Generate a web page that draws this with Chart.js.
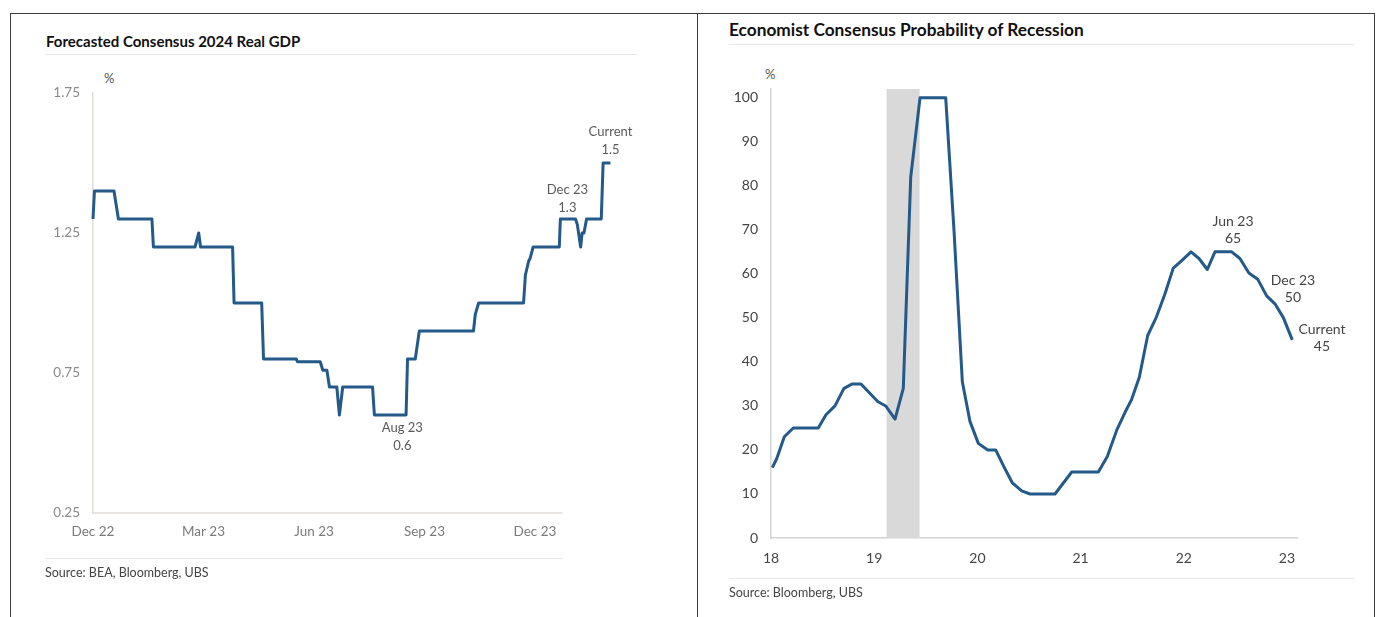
<!DOCTYPE html>
<html>
<head>
<meta charset="utf-8">
<script src="https://cdn.jsdelivr.net/npm/chart.js@4.4.1/dist/chart.umd.min.js"></script>
<style>
  html, body { margin: 0; padding: 0; background: #fff; width: 1377px; height: 617px; overflow: hidden; }
  body { position: relative; font-family: Lato, "Open Sans", sans-serif; }
  .rule-h { position: absolute; height: 0; }
  .rule-v { position: absolute; width: 0; }
  .title { position: absolute; font-weight: bold; color: #111; white-space: nowrap; line-height: 1; }
  .source { position: absolute; font-size: 12.5px; color: #444; white-space: nowrap; line-height: 1; }
  .unit { position: absolute; font-size: 13px; color: #555; line-height: 1; }
  canvas { position: absolute; top: 0; }
</style>
</head>
<body>
<!-- frame -->
<div class="rule-h" style="left:10px; top:13px; width:1365px; border-top:1.5px solid #3c3c3c;"></div>
<div class="rule-v" style="left:10px; top:13px; height:604px; border-left:1.5px solid #3c3c3c;"></div>
<div class="rule-v" style="left:697px; top:13px; height:604px; border-left:1.5px solid #3c3c3c;"></div>
<div class="rule-v" style="left:1374px; top:13px; height:604px; border-left:1.5px solid #3c3c3c;"></div>

<!-- left panel -->
<div class="title" style="left:46px; top:34px; font-size:15px;">Forecasted Consensus 2024 Real GDP</div>
<div class="rule-h" style="left:46px; top:54px; width:591px; border-top:1.5px solid #e6e6e6;"></div>
<div class="unit" style="left:104px; top:72px;">%</div>
<canvas id="gdp" width="697" height="617" style="left:0;"></canvas>
<div class="rule-h" style="left:46px; top:558px; width:516px; border-top:1.5px solid #e6e6e6;"></div>
<div class="source" style="left:45px; top:567px;">Source: BEA, Bloomberg, UBS</div>

<!-- right panel -->
<div class="title" style="left:729px; top:21px; font-size:17.3px;">Economist Consensus Probability of Recession</div>
<div class="rule-h" style="left:729px; top:44px; width:625px; border-top:1.5px solid #e6e6e6;"></div>
<div class="unit" style="left:765px; top:68px;">%</div>
<canvas id="rec" width="680" height="617" style="left:697px;"></canvas>
<div class="rule-h" style="left:729px; top:578px; width:625px; border-top:1.5px solid #e6e6e6;"></div>
<div class="source" style="left:729px; top:587px;">Source: Bloomberg, UBS</div>

<script>
// ---- Forecasted consensus 2024 real GDP (x = months after Dec 22) ----
const gdpMonths = [0, 0.04, 0.57, 0.63, 0.69, 1.60, 1.64, 2.77, 2.87, 2.92,
  3.79, 3.83, 4.58, 4.63, 5.52, 5.55, 6.17, 6.24, 6.35, 6.42,
  6.62, 6.69, 6.78, 7.59, 7.64, 8.50, 8.54, 8.75, 8.86, 10.33,
  10.38, 10.47, 11.69, 11.74, 11.83, 11.87, 11.95, 12.66, 12.69, 13.10,
  13.15, 13.24, 13.28, 13.33, 13.40, 13.80, 13.85, 14.05];
const gdpValues = [1.3, 1.4, 1.4, 1.35, 1.3, 1.3, 1.2, 1.2, 1.25, 1.2,
  1.2, 1.0, 1.0, 0.8, 0.8, 0.79, 0.79, 0.76, 0.76, 0.7,
  0.7, 0.6, 0.7, 0.7, 0.6, 0.6, 0.8, 0.8, 0.9, 0.9,
  0.96, 1.0, 1.0, 1.1, 1.15, 1.16, 1.2, 1.2, 1.3, 1.3,
  1.28, 1.2, 1.25, 1.25, 1.3, 1.3, 1.5, 1.5];
const gdpTickMonths = [0, 3, 6, 9, 12];
const gdpTickLabels = ['Dec 22', 'Mar 23', 'Jun 23', 'Sep 23', 'Dec 23'];
const gdpAxisEnd = 12.75;   // the baseline stops here; the series runs on past it
const gdpYTicks = [0.25, 0.75, 1.25, 1.75];
const gdpNoteNames = ['Aug 23', 'Dec 23', 'Current'];
const gdpNoteMonths = [8.4, 12.88, 14.05];
const gdpNoteValues = [0.6, 1.3, 1.5];

// ---- Economist consensus probability of recession (x = year, 18 = 2018) ----
const recYears = [18.013, 18.055, 18.129, 18.216, 18.458, 18.533, 18.620, 18.707, 18.788, 18.872,
  18.953, 19.034, 19.111, 19.202, 19.282, 19.354, 19.444, 19.693, 19.773, 19.854,
  19.928, 20.009, 20.100, 20.177, 20.261, 20.339, 20.429, 20.510, 20.752, 20.914,
  21.172, 21.259, 21.350, 21.430, 21.495, 21.569, 21.650, 21.731, 21.818, 21.898,
  21.980, 22.070, 22.147, 22.228, 22.302, 22.464, 22.544, 22.631, 22.716, 22.803,
  22.883, 22.966, 23.051];
const recValues = [16, 18, 23, 25, 25, 28, 30, 34, 35, 35,
  33, 31, 30, 27, 34, 82, 100, 100, 70, 35.5,
  26.5, 21.5, 20, 20, 16, 12.5, 10.7, 10, 10, 15,
  15, 18.5, 24.5, 28.5, 31.5, 36.5, 46, 50, 55.5, 61.3,
  63, 65, 63.5, 61, 65, 65, 63.5, 60.2, 58.8, 55,
  53.2, 50, 45];
const recTickYears = [18, 19, 20, 21, 22, 23];
const recYTicks = [0, 10, 20, 30, 40, 50, 60, 70, 80, 90, 100];
const recessionBand = [19.12, 19.44];
const recNoteNames = ['Jun 23', 'Dec 23', 'Current'];
const recNoteYears = [22.477, 23.058, 23.339];
const recNoteValues = [65, 50, 45];

const LINE_BLUE = '#245a89';
const FONT = 'Lato, "Open Sans", sans-serif';

// Two-line labels (name over value) anchored in data space
const notesPlugin = {
  id: 'notes',
  afterDatasetsDraw(chart, args, opts) {
    const { ctx, scales: { x, y } } = chart;
    ctx.save();
    ctx.font = opts.font;
    ctx.fillStyle = opts.color;
    ctx.textAlign = 'center';
    ctx.textBaseline = 'middle';
    opts.items.forEach(n => {
      const px = x.getPixelForValue(n.x);
      const py = y.getPixelForValue(n.y);
      ctx.fillText(n.name, px, py + n.dy);
      ctx.fillText(String(n.y), px, py + n.dy + opts.lineHeight);
    });
    ctx.restore();
  }
};

// Shaded recession period behind the line
const bandPlugin = {
  id: 'band',
  beforeDatasetsDraw(chart, args, opts) {
    if (!opts.range) return;
    const { ctx, chartArea, scales: { x } } = chart;
    const x0 = x.getPixelForValue(opts.range[0]);
    const x1 = x.getPixelForValue(opts.range[1]);
    ctx.save();
    ctx.fillStyle = opts.color;
    ctx.fillRect(x0, chartArea.top, x1 - x0, chartArea.bottom - chartArea.top);
    ctx.restore();
  }
};

// Short x baseline that ends before the last data points
const baselinePlugin = {
  id: 'baseline',
  beforeDatasetsDraw(chart, args, opts) {
    if (opts.end === undefined) return;
    const { ctx, chartArea, scales: { x } } = chart;
    ctx.save();
    ctx.strokeStyle = opts.color;
    ctx.lineWidth = opts.width;
    ctx.beginPath();
    ctx.moveTo(chartArea.left, chartArea.bottom);
    ctx.lineTo(x.getPixelForValue(opts.end), chartArea.bottom);
    ctx.stroke();
    ctx.restore();
  }
};

function fixedTicks(values) {
  return scale => { scale.ticks = values.map(v => ({ value: v })); };
}

// ---- left chart ----
const gdpNoteOffsets = [13, -29, -31];
new Chart(document.getElementById('gdp'), {
  type: 'line',
  data: {
    datasets: [{
      data: gdpMonths.map((m, i) => ({ x: m, y: gdpValues[i] })),
      borderColor: LINE_BLUE,
      borderWidth: 3,
      pointRadius: 0,
      tension: 0,
      clip: false,
      borderJoinStyle: 'round'
    }]
  },
  options: {
    responsive: false,
    animation: false,
    events: [],
    layout: { padding: { left: 0, top: 93, right: 81, bottom: 74 } },
    plugins: {
      legend: { display: false },
      tooltip: { enabled: false },
      baseline: { end: gdpAxisEnd, color: '#e0dcd8', width: 1.5 },
      notes: {
        font: '13px ' + FONT,
        color: '#5a5a5a',
        lineHeight: 18,
        items: gdpNoteNames.map((name, i) => ({ name, x: gdpNoteMonths[i], y: gdpNoteValues[i], dy: gdpNoteOffsets[i] }))
      }
    },
    scales: {
      x: {
        type: 'linear', min: 0, max: 14.2,
        afterBuildTicks: fixedTicks(gdpTickMonths),
        afterFit: s => { s.height = 30; },
        grid: { display: false, drawTicks: false },
        border: { display: false },
        ticks: {
          padding: 11, color: '#7a7a7a', font: { family: FONT, size: 13.5 },
          maxRotation: 0, autoSkip: false,
          callback: v => gdpTickLabels[gdpTickMonths.indexOf(v)]
        }
      },
      y: {
        type: 'linear', min: 0.25, max: 1.75,
        afterBuildTicks: fixedTicks(gdpYTicks),
        afterFit: s => { s.width = 93; },
        grid: { display: false, drawTicks: false },
        border: { display: true, color: '#e0dcd8', width: 1.5 },
        ticks: {
          padding: 13, color: '#8a8a8a', font: { family: FONT, size: 13.5 },
          callback: v => v.toFixed(2)
        }
      }
    }
  },
  plugins: [baselinePlugin, notesPlugin]
});

// ---- right chart ----
const recNoteOffsets = [-30, -37, -10];
new Chart(document.getElementById('rec'), {
  type: 'line',
  data: {
    datasets: [{
      data: recYears.map((yv, i) => ({ x: yv, y: recValues[i] })),
      borderColor: LINE_BLUE,
      borderWidth: 3,
      pointRadius: 0,
      tension: 0,
      clip: false,
      borderJoinStyle: 'round'
    }]
  },
  options: {
    responsive: false,
    animation: false,
    events: [],
    layout: { padding: { left: 0, top: 89, right: 80, bottom: 49 } },
    plugins: {
      legend: { display: false },
      tooltip: { enabled: false },
      band: { range: recessionBand, color: '#d9d9d9' },
      notes: {
        font: '14px ' + FONT,
        color: '#444',
        lineHeight: 17,
        items: recNoteNames.map((name, i) => ({ name, x: recNoteYears[i], y: recNoteValues[i], dy: recNoteOffsets[i] }))
      }
    },
    scales: {
      x: {
        type: 'linear', min: 18, max: 23.097,
        afterBuildTicks: fixedTicks(recTickYears),
        afterFit: s => { s.height = 30; },
        grid: { display: false, drawTicks: false },
        border: { display: true, color: '#d4d4d4', width: 1.5 },
        ticks: {
          padding: 12, color: '#444', font: { family: FONT, size: 14 },
          maxRotation: 0, autoSkip: false,
          callback: v => String(v)
        }
      },
      y: {
        type: 'linear', min: 0, max: 102,
        afterBuildTicks: fixedTicks(recYTicks),
        afterFit: s => { s.width = 74; },
        grid: { display: false, drawTicks: false },
        border: { display: true, color: '#d4d4d4', width: 1.5 },
        ticks: {
          padding: 13, color: '#444', font: { family: FONT, size: 14 },
          callback: v => String(v)
        }
      }
    }
  },
  plugins: [bandPlugin, notesPlugin]
});
</script>
</body>
</html>
